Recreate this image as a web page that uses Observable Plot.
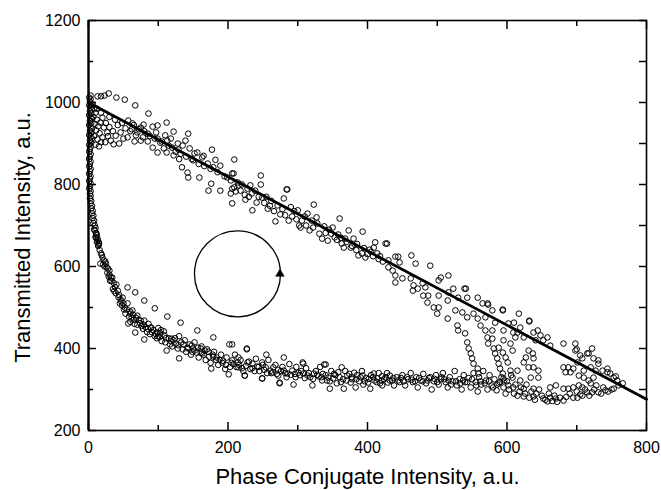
<!DOCTYPE html>
<html>
<head>
<meta charset="utf-8">
<script src="https://cdn.jsdelivr.net/npm/d3@7"></script>
<script src="https://cdn.jsdelivr.net/npm/@observablehq/plot@0.6"></script>
<style>
  html, body { margin: 0; padding: 0; background: #fff; }
</style>
</head>
<body>
<div id="chart"></div>
<script>
const xLabel = "Phase Conjugate Intensity, a.u.";
const yLabel = "Transmitted Intensity, a.u.";
const xMajor = [0, 200, 400, 600, 800];
const xMinor = [100, 300, 500, 700];
const yMajor = [200, 400, 600, 800, 1000, 1200];
const yMinor = [300, 500, 700, 900, 1100];

// straight guide line
const lineX = [0, 800];
const lineY = [1000, 276];

// cycle marker (circle with arrowhead)
const cycleCenter = [[213.6, 582]];
const cycleArrow = [[274.5, 582]];

// near-vertical stack at left edge
const columnPts = [[1,1012],[3,1008],[2,1002],[4,997],[1,993],[3,988],[5,983],[2,979],[4,974],[1,969],[3,964],[5,960],[2,955],[4,950],[1,945],[3,940],[5,936],[2,931],[4,926],[1,921],[3,916],[5,912],[2,907],[4,902],[1,897],[3,892],[2,886],[1,880],[3,874],[2,868],[1,862],[3,856],[2,850],[1,844],[3,838],[2,832],[1,826],[3,820],[2,814],[1,808],[3,802],[2,796],[1,790],[3,784],[2,778],[3,772],[2,766],[4,760],[3,754],[5,748],[4,742],[6,736],[5,730],[7,724],[6,718],[8,712],[7,706],[9,700],[10,694],[9,688],[11,682],[12,676],[11,670],[13,664],[15,658],[14,652]];

// cluster at top-left
const topCluster = [[6,995],[8,985],[10,975],[7,965],[12,958],[9,948],[14,942],[11,932],[16,925],[8,918],[13,910],[18,903],[10,897],[15,893],[20,915],[17,951],[22,939],[27,927],[20,963],[25,950],[30,940],[32,907],[35,930],[39,919],[42,945],[46,927],[50,912],[53,937],[56,915],[57,956],[60,930],[63,949],[66,905],[70,927],[75,907],[75,939],[79,946],[85,924],[28,918],[24,903],[36,898],[44,900],[38,958],[48,950],[30,965],[18,975],[12,985]];

// sparse outer track above the line
const outerTrack = [[3,1017],[13,1015],[18,1015],[23,1017],[29,1022],[40,1012],[52,1007],[67,993],[86,973],[112,951],[143,924],[177,885],[209,861],[247,822],[284,788],[323,751]];

// main upper band along the line
const upperBand = [[92,941],[97,927],[99,912],[103,902],[113,907],[92,890],[99,878],[108,888],[120,890],[122,871],[129,885],[134,842],[142,829],[143,817],[150,859],[152,876],[159,817],[172,785],[176,802],[189,785],[204,778],[199,817],[208,827],[189,846],[179,842],[171,851],[163,866],[156,878],[99,944],[122,929],[139,907],
[65,945],[72,935],[80,930],[88,918],[95,912],[105,905],[115,895],[125,880],[132,875],[140,868],[148,862],[158,850],[166,845],[175,838],[185,830],[195,820],[110,920],[118,912],[128,900],[135,895],[145,888],[165,870],[182,860],[130,862],[112,878],[85,905],[78,915],[68,920],[62,935],
[206,827],[206,790],[211,783],[206,754],[215,798],[225,763],[235,737],[234,778],[241,756],[247,800],[249,768],[257,741],[268,710],[271,749],[275,727],[280,766],[285,788],[287,712],[300,737],[302,700],[304,695],[314,729],[317,688],[327,720],[331,680],[335,668],[343,663],[350,695],[353,671],[360,717],[363,656],[366,646],[373,688],[376,646],[380,668],[393,685],[387,627],[397,622],[403,641],[409,646],[411,659],[426,656],[414,632],[204,810],[214,805],[209,793],[232,798],[239,785],
[220,800],[228,790],[255,770],[262,760],[290,745],[295,735],[310,722],[320,712],[338,698],[345,690],[358,678],[368,668],[385,655],[395,645],[405,636],[418,625],
[218,785],[224,775],[230,770],[244,770],[252,755],[260,748],[266,735],[278,740],[282,725],[292,722],[298,715],[306,712],[312,700],[322,695],[328,705],[340,682],[348,680],[356,665],[362,670],[370,660],[378,650],[384,640],[392,632],[400,630],[408,625],[416,618],[422,612],[430,615],
[428,656],[440,624],[444,624],[446,610],[463,627],[469,607],[490,602],[430,598],[436,590],[440,578],[450,571],[440,561],[462,571],[466,554],[472,546],[465,541],[479,559],[483,549],[480,529],[487,529],[502,529],[505,573],[516,578],[502,566],[486,512],[495,500],[502,500],[500,485],[515,517],[516,537],[523,546],[539,546],[530,524],[543,524],[558,524],[526,493],[536,488],[543,476],[552,485],[558,473],[565,510],[573,507],[579,493],[594,493],[569,476],[583,463],[595,444],[602,461],[609,439],
[541,546],[572,510],[594,495],[617,485],[632,466],[644,444],[658,427],[681,412],[700,398],[717,388],[731,371],[744,351],[756,332],[766,315]];

// descending strands in the right part
const loopPts = [[515,473],[529,456],[530,444],[540,437],[543,415],[545,400],[548,388],[550,376],[552,363],[558,351],[559,339],[562,456],[569,444],[572,427],[573,412],[579,424],[581,400],[583,388],[586,376],[588,363],[590,351],[594,339],[595,327],[588,402],[594,390],[598,378],[601,366],[605,346],[595,420],[605,412],[608,395],[579,444]];

// far-right region
const rightCluster = [[632,468],[610,463],[619,451],[615,439],[624,427],[612,427],[638,439],[648,432],[662,407],[652,420],[641,420],[631,395],[637,388],[627,378],[624,366],[638,376],[638,354],[645,346],[631,354],[645,329],[634,329],[615,346],[619,322],[608,329],[609,305],[624,302],[638,302],[615,285],[624,283],[638,283],[652,278],[662,280],[658,271],[670,278],[681,273],[662,305],[670,310],[681,302],[688,302],[695,305],[703,310],[708,305],[701,280],[708,285],[715,293],[722,293],[720,315],[731,293],[741,298],[753,302],[760,310],[681,354],[688,354],[695,351],[684,342],[691,342],[703,334],[710,329],[717,322],[724,329],[727,346],[720,354],[710,346],[701,366],[708,376],[705,383],[698,395],[698,412],[715,388],[724,376],[731,363],[737,346],[744,342],[748,339],[753,329],[758,322],[722,400]];

// lower-left curve
const lowerCurve = [[17,607],[20,622],[25,607],[30,590],[32,573],[34,573],[40,556],[42,541],[49,524],[50,510],[56,510],[60,485],[63,493],[70,480],[75,468],[80,468],[89,451],[90,451],[99,439],[103,437],[109,432],[119,424],[122,420],[133,415],[142,402],[148,407],[161,400],[161,390],[179,380],
[67,537],[95,498],[113,478],[132,463],[156,444],[179,427],[202,410],[227,398],[255,385],[280,378],[307,366],[338,361],[56,549],[80,517],
[57,461],[67,439],[80,422],[112,395],[130,376],[176,351],[201,337],[224,334],[249,327],[274,317],[294,312],[321,310],
[8,690],[10,672],[12,660],[14,650],[16,640],[18,632],[11,680],[13,668],[15,655],[19,628],[22,615],[24,612],[21,605],[26,598],[28,595],[27,585],[30,580],[33,565],[36,560],[38,550],[35,545],[39,535],[44,530],[46,520],[45,510],[48,505],[52,500],[55,495],[53,485],[58,478],[62,475],[65,470],[60,465],[66,460],[70,458],[72,470],[76,455],[78,448],[82,452],[84,440],[86,460],[88,435],[93,445],[95,430],[98,425],[102,428],[105,418],[100,450],[108,442],[110,415],[115,425],[117,410],[120,405],[125,412],[128,400],[130,430],[135,398],[138,420],[140,392],[145,410],[147,385],[150,400],[152,415],[155,390],[158,378],[162,405],[165,385],[168,372],[170,398],[173,380],[175,365],[180,392],[183,372],[186,360],[190,385],[193,370],[196,350],[198,378],
[100,430],[104,445],[111,425],[118,418],[124,425],[129,408],[136,410],[143,400],[149,392],[60,490],[64,482],[68,475],[74,462],[79,458],[85,448],[91,440],[96,436],[43,525],[47,515],[51,495],[37,540],[31,565],[29,575],[23,600]];

// lower horizontal band
const lowerBand = [[206,410],[227,400],[206,371],[214,366],[215,378],[215,354],[224,334],[228,366],[235,363],[242,356],[249,366],[249,327],[254,354],[261,346],[265,354],[272,334],[274,315],[280,346],[285,339],[292,346],[301,341],[308,363],[308,339],[314,334],[323,339],[330,332],[335,322],[340,361],[344,329],[346,302],[351,327],[356,315],[363,354],[366,302],[371,334],[376,317],[381,341],[383,305],[393,334],[394,312],[401,317],[404,302],[409,339],[414,327],[421,332],[421,310],[429,317],[432,334],
[205,365],[210,385],[212,355],[218,372],[222,345],[230,368],[235,352],[240,375],[245,345],[250,360],[258,372],[262,340],[268,360],[272,348],[278,355],[284,330],[288,362],[296,338],[298,355],[305,345],[312,352],[318,330],[326,345],[332,355],[336,338],[342,322],[348,345],[354,335],[358,342],[365,325],[368,345],[374,338],[378,325],[385,335],[388,320],[392,345],[398,328],[405,335],[410,322],[416,340],[418,315],[424,325],[428,340],[435,322],[438,310],[442,330],[446,318],[450,335],[454,310],[458,325],[462,340],[465,318],[470,330],[472,305],[476,322],[480,338],[484,315],[488,328],[492,300],[495,320],[498,335],[502,312],[505,325],[508,340],[512,318],[515,305],[518,330],[522,320],[525,345],[528,310],[532,325],[535,300],[538,335],[540,318],[545,328],[548,305],[552,340],[555,318],[558,295],[560,330],[563,312],[566,345],[570,322],[572,300],[575,335],[578,310],[582,325],[585,298],[588,315],[592,330],[595,305],[598,290],[600,320],[603,300],[606,335],[610,290],[612,312],[618,295],[620,305],[626,290],[628,312],[632,280],[635,295],[640,275],[642,290],[646,300],[650,285],[655,275],[660,290],[665,272],[668,285],[672,270],[676,280],[685,282],[690,290],[695,280],[700,295],[705,288],[712,300],[718,285],[725,300],[728,310],[735,290],[738,305],[745,295],[750,300],
[152,395],[157,402],[163,388],[167,395],[172,392],[178,385],[184,378],[188,372],[192,365],[197,360],[203,355],[208,362],[216,360],[220,352],[226,358],[232,350],[238,345],[244,355],[252,348],[256,340],[264,342],[270,338],[276,345],[282,340],[290,336],[297,330],[303,335],[310,328],[316,340],[322,326],[328,336],[334,330],[340,335],[346,320],[352,338],[360,330],[362,318],[370,322],[377,330],[384,325],[390,330],[396,320],[402,326],[408,330],[413,318],[420,322],[426,330],[432,322],[437,328],[444,322],[448,328],[452,320],[457,330],[463,324],[468,320],[474,328],[479,320],[486,322],[490,330],[496,326],[500,318],[506,330],[510,325],[516,322],[520,312],[527,320],[533,315],[537,322],[543,318],[550,325],[556,310],[562,320],[568,315],[574,320],[580,305],[586,312],[590,318],[596,322],[602,310]];

const points = [...columnPts, ...topCluster, ...outerTrack, ...upperBand, ...loopPts, ...rightCluster, ...lowerCurve, ...lowerBand];
const guide = lineX.map((x, i) => ({x, y: lineY[i]}));

const font = "'Liberation Sans', Arial, Helvetica, sans-serif";
const blank = () => "";
const plain = d => String(d);

const chart = Plot.plot({
  width: 661,
  height: 490,
  marginLeft: 88,
  marginRight: 15,
  marginTop: 20,
  marginBottom: 60,
  style: {fontFamily: font, color: "black", background: "white"},
  x: {domain: [0, 800], label: null},
  y: {domain: [200, 1200], label: null},
  marks: [
    // inward ticks on all four sides
    Plot.axisX({anchor: "bottom", ticks: xMajor, tickSize: 8, dy: -8, tickFormat: blank, label: null, strokeWidth: 1.5}),
    Plot.axisX({anchor: "bottom", ticks: xMinor, tickSize: 5, dy: -5, tickFormat: blank, label: null, strokeWidth: 1.5}),
    Plot.axisX({anchor: "top", ticks: xMajor, tickSize: 8, dy: 8, tickFormat: blank, label: null, strokeWidth: 1.5}),
    Plot.axisX({anchor: "top", ticks: xMinor, tickSize: 5, dy: 5, tickFormat: blank, label: null, strokeWidth: 1.5}),
    Plot.axisY({anchor: "left", ticks: yMajor, tickSize: 8, dx: 8, tickFormat: blank, label: null, strokeWidth: 1.5}),
    Plot.axisY({anchor: "left", ticks: yMinor, tickSize: 5, dx: 5, tickFormat: blank, label: null, strokeWidth: 1.5}),
    Plot.axisY({anchor: "right", ticks: yMajor, tickSize: 8, dx: -8, tickFormat: blank, label: null, strokeWidth: 1.5}),
    Plot.axisY({anchor: "right", ticks: yMinor, tickSize: 8, dx: -8, tickFormat: blank, label: null, strokeWidth: 1.5}),
    // tick labels
    Plot.axisX({anchor: "bottom", ticks: xMajor, tickSize: 0, tickPadding: 11, fontSize: 16, tickFormat: plain, label: null}),
    Plot.axisY({anchor: "left", ticks: yMajor, tickSize: 0, tickPadding: 8, fontSize: 16, tickFormat: plain, label: null}),
    Plot.frame({stroke: "black", strokeWidth: 1.6}),
    Plot.ruleX([0], {stroke: "black", strokeWidth: 2.2}),
    Plot.dot(points, {x: d => d[0], y: d => d[1], r: 2.8, stroke: "black", strokeWidth: 1, fill: "none"}),
    Plot.line(guide, {x: "x", y: "y", stroke: "black", strokeWidth: 2.8}),
    Plot.dot(cycleCenter, {x: d => d[0], y: d => d[1], r: 43, stroke: "black", strokeWidth: 1.3, fill: "none"}),
    Plot.dot(cycleArrow, {x: d => d[0], y: d => d[1], symbol: "triangle", r: 3.2, fill: "black", stroke: "black", strokeWidth: 0.5}),
    Plot.text([xLabel], {text: d => d, frameAnchor: "bottom", textAnchor: "middle", lineAnchor: "middle", dy: 46, fontSize: 22, fill: "black"}),
    Plot.text([yLabel], {text: d => d, frameAnchor: "left", textAnchor: "middle", lineAnchor: "middle", dx: -66, dy: 12, rotate: -90, fontSize: 22, fill: "black"})
  ]
});
document.getElementById("chart").appendChild(chart);
</script>
</body>
</html>
